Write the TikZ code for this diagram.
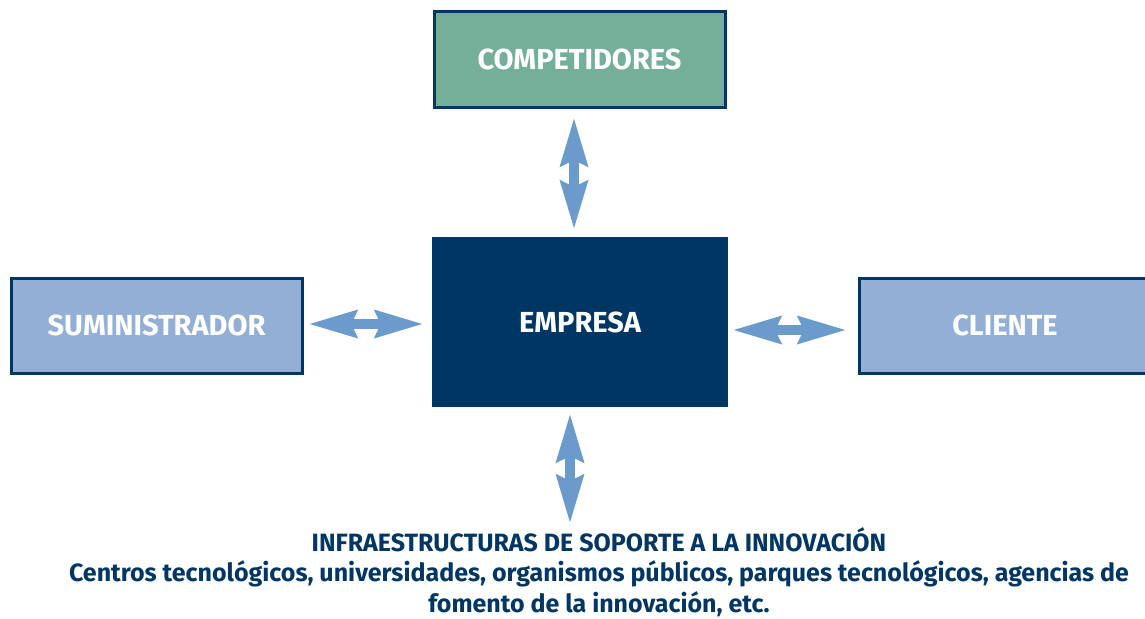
\documentclass[tikz,border=0pt]{standalone}
\usepackage{fontspec}
\setmainfont{Fira Sans}
\usetikzlibrary{arrows.meta}
\definecolor{navy}{HTML}{003663}
\definecolor{teal}{HTML}{75AF9A}
\definecolor{lightblue}{HTML}{93AFD6}
\definecolor{arrowblue}{HTML}{6A9BCB}
\tikzset{
  lbl/.style={font=\fontsize{29}{34}\selectfont\bfseries, text=white},
  outerbox/.style={lbl, draw=navy, line width=3pt, minimum width=291pt, minimum height=95pt, inner sep=0pt},
  compbox/.style={outerbox, fill=teal},
  sidebox/.style={outerbox, fill=lightblue},
  centerbox/.style={lbl, fill=navy, minimum width=296pt, minimum height=170pt, inner sep=0pt},
  dblarrow/.style={draw=arrowblue, line width=10.5pt,
    {Stealth[length=48pt,width=26pt,inset=5pt,fill=arrowblue]}-{Stealth[length=48pt,width=26pt,inset=5pt,fill=arrowblue]}},
  infotext/.style={font=\fontsize{25}{30.5}\selectfont\bfseries, text=navy, align=center, inner sep=0pt}
}
\begin{document}
\begin{tikzpicture}[x=1pt,y=-1pt]
\useasboundingbox (0,0) rectangle (1145,618);
\fill[white] (0,0) rectangle (1145,618);
\clip (0,0) rectangle (1145,618);
\node[compbox] (comp) at (579.5,59.5) {\raisebox{-1.5pt}{COMPETIDORES}};
\node[centerbox] (emp) at (580,322) {\raisebox{-1.5pt}{EMPRESA}};
\node[sidebox] (sum) at (156.5,325.5) {\raisebox{-1pt}{SUMINISTRADOR}};
\node[sidebox] (cli) at (1005,325.5) {\raisebox{-1pt}{CLIENTE}};
\node[infotext, anchor=north] (infra) at (599,527) {INFRAESTRUCTURAS DE SOPORTE A LA INNOVACIÓN\\Centros tecnológicos, universidades, organismos públicos, parques tecnológicos, agencias de\\fomento de la innovación, etc.};
\coordinate (t1) at (574,117); \coordinate (t2) at (574,230);
\coordinate (b1) at (570,413); \coordinate (b2) at (570,524);
\coordinate (l1) at (308,324); \coordinate (l2) at (424,324);
\coordinate (r1) at (732,330); \coordinate (r2) at (847,330);
\draw[dblarrow] (t1) -- (t2);
\draw[dblarrow] (b1) -- (b2);
\draw[dblarrow] (l1) -- (l2);
\draw[dblarrow] (r1) -- (r2);
\end{tikzpicture}
\end{document}
